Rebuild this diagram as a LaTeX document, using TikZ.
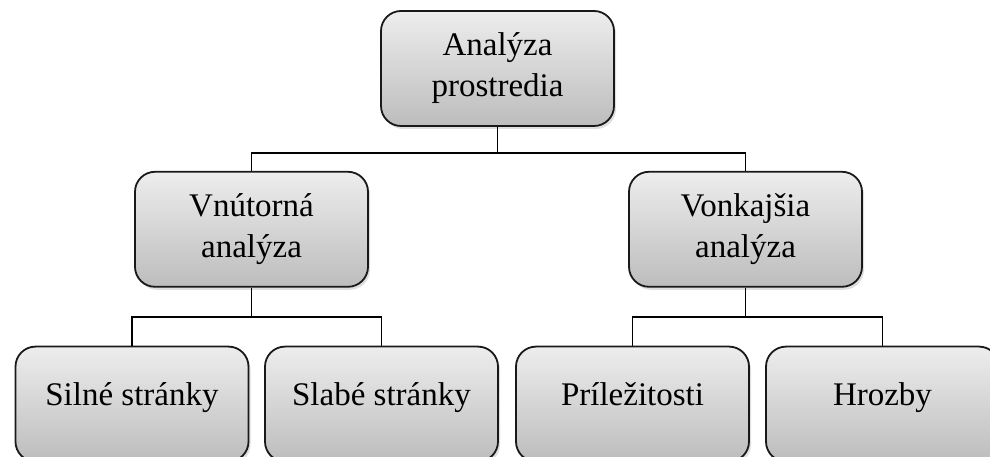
\documentclass[tikz,border=0pt]{standalone}
\usepackage{fontspec}
\setmainfont{Liberation Serif}
\usetikzlibrary{positioning,shadows}

\begin{document}
\begin{tikzpicture}[
  x=1pt, y=1pt,
  font=\fontsize{33}{41}\selectfont,
  box/.style={draw=black!90, line width=1.8pt, rounded corners=20pt,
    top color=black!7, bottom color=black!26, minimum width=233pt,
    minimum height=115pt, inner sep=4pt, align=center,
    drop shadow={opacity=0.25, shadow xshift=2pt, shadow yshift=-3pt}},
  leaf/.style={box, text height=15pt, text depth=12pt},
  link/.style={draw, line width=1.8pt},
  node distance=44pt and 17pt,
]
\useasboundingbox (0,0) rectangle (990,457);

\node[box] (root) at (497.5,388.5) {Analýza\\prostredia};
\node[box, below=44pt of root, xshift=-246pt] (inner) {Vnútorná\\analýza};
\node[box, below=44pt of root, xshift=248pt] (outer) {Vonkajšia\\analýza};
\draw[link] (root.south) -- ++(0,-26) -| (inner.north);
\draw[link] (root.south) -- ++(0,-26) -| (outer.north);

\node[leaf, below=58pt of inner, xshift=-119.5pt] (strong) {Silné stránky};
\node[leaf, below=58pt of inner, xshift=130pt] (weak) {Slabé stránky};
\node[leaf, below=58pt of outer, xshift=-113pt] (chance) {Príležitosti};
\node[leaf, below=58pt of outer, xshift=137pt] (threat) {Hrozby};
\foreach \n in {strong,weak} { \draw[link] (inner.south) -- ++(0,-29) -| (\n.north); }
\foreach \n in {chance,threat} { \draw[link] (outer.south) -- ++(0,-29) -| (\n.north); }
\end{tikzpicture}
\end{document}
